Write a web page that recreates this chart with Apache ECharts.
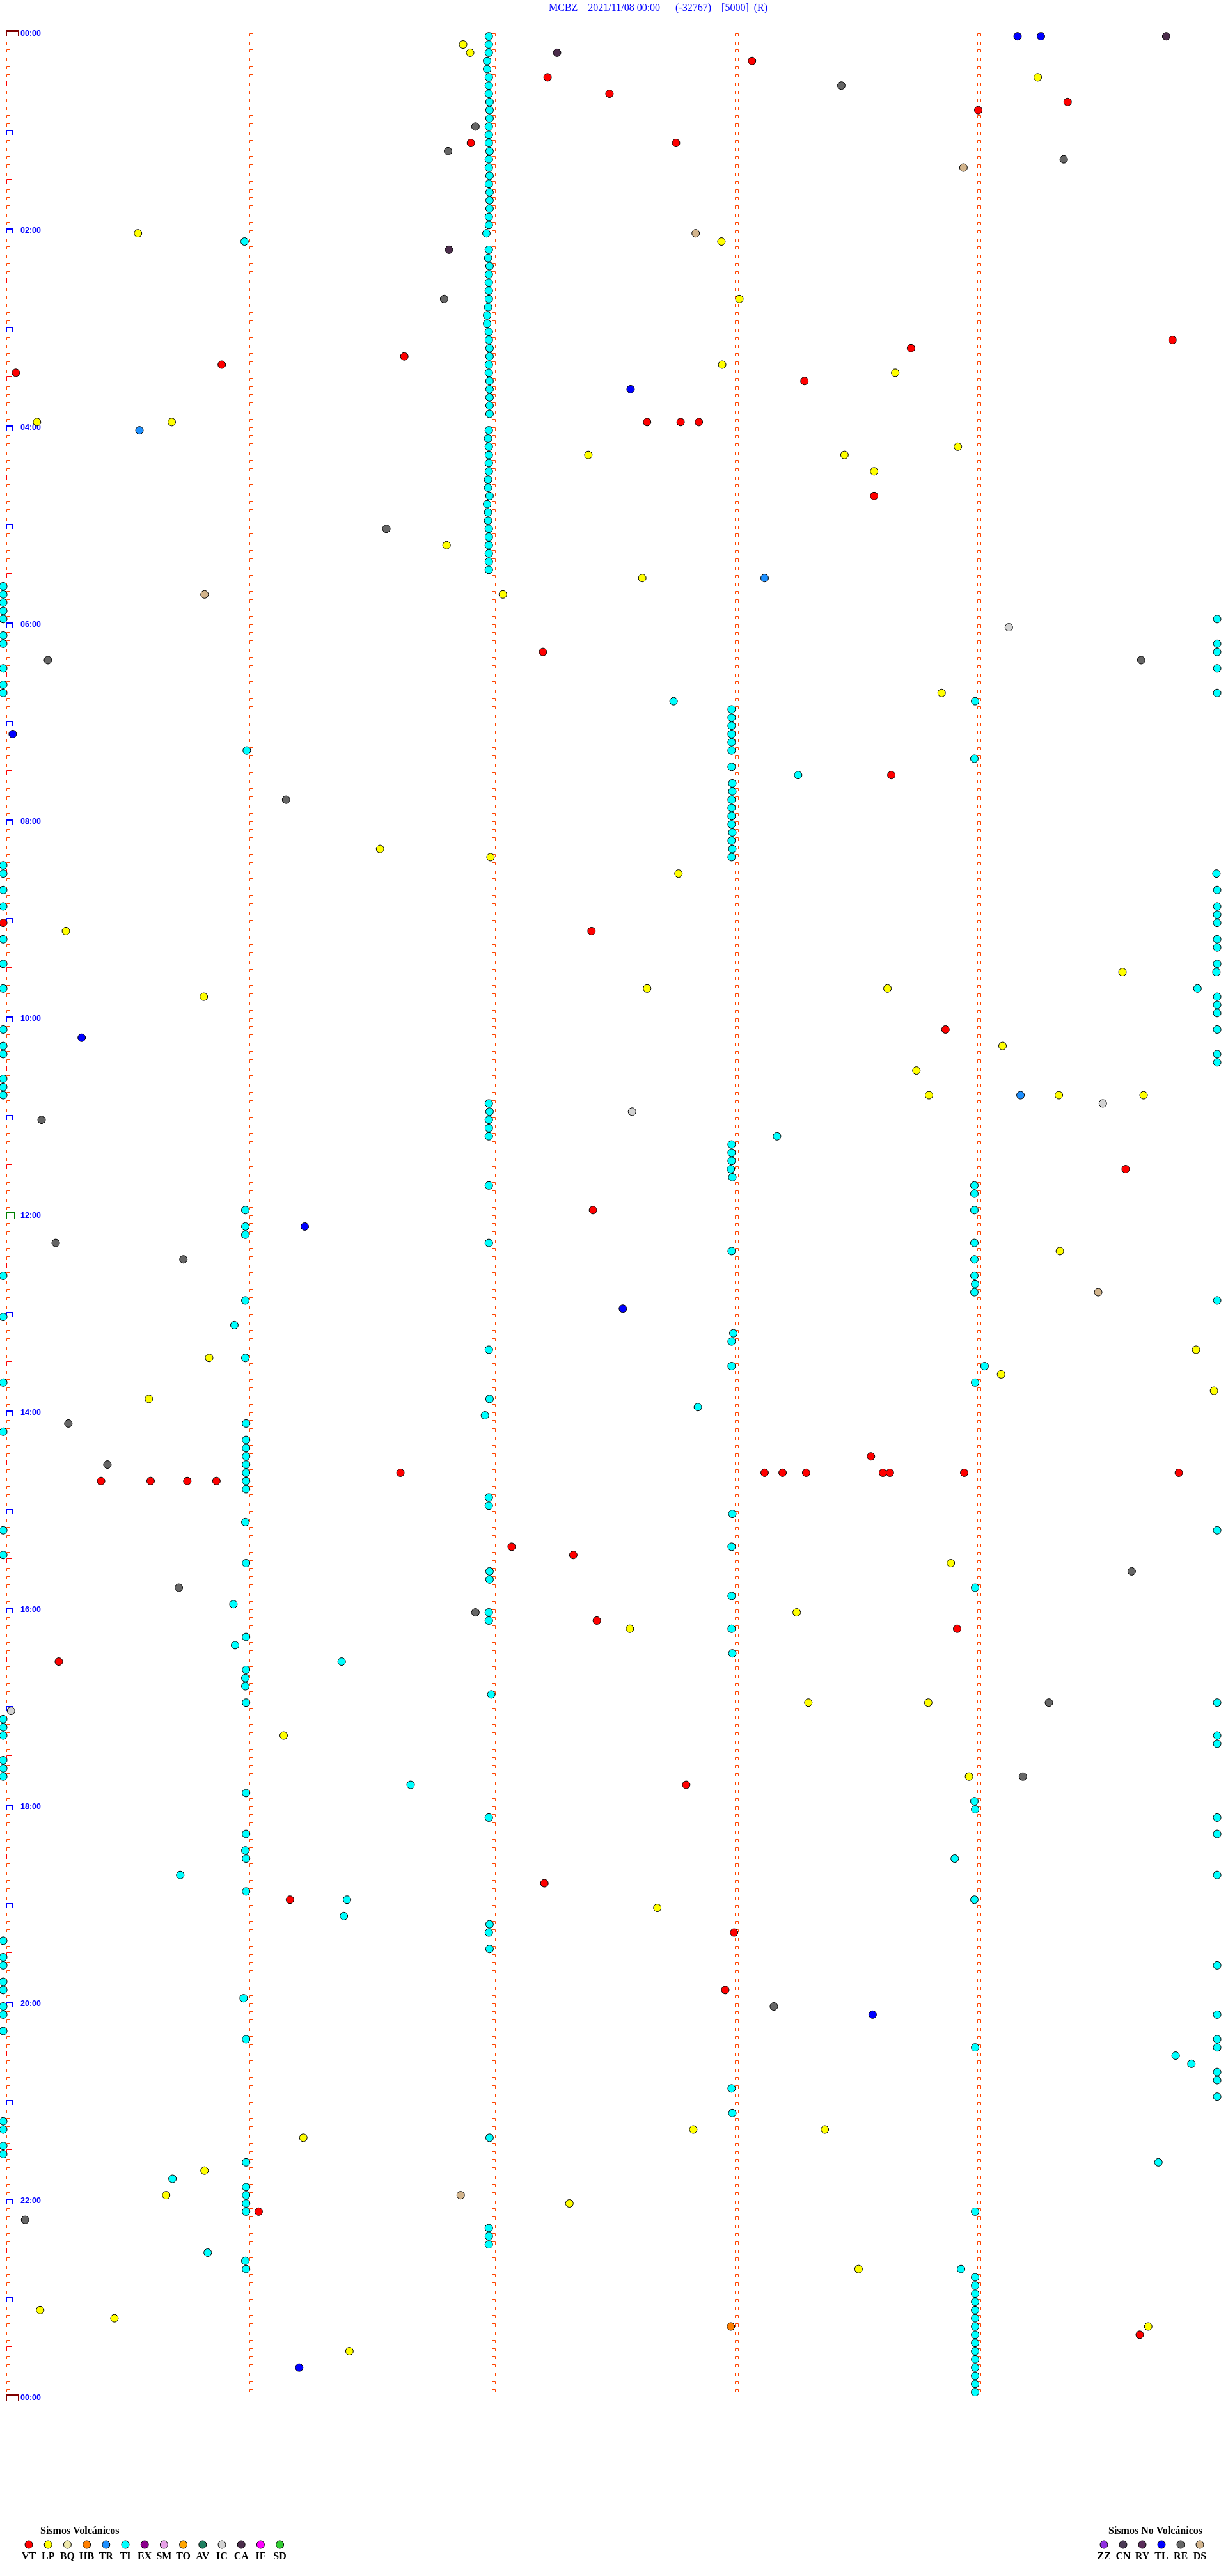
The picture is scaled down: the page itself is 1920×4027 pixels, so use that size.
<!DOCTYPE html>
<html><head><meta charset="utf-8">
<script src="https://cdn.jsdelivr.net/npm/echarts@6/dist/echarts.min.js"></script>
<style>html,body{margin:0;padding:0;background:#fff;}#c{width:1920px;height:4027px;}</style>
</head><body><div id="c"></div>
<script>
// ---------- texts ----------
const TITLE = 'MCBZ    2021/11/08 00:00      (-32767)    [5000]  (R)';
const timeLabels = ['00:00','02:00','04:00','06:00','08:00','10:00','12:00','14:00','16:00','18:00','20:00','22:00','00:00'];
const volcanicTypes  = ['VT','LP','BQ','HB','TR','TI','EX','SM','TO','AV','IC','CA','IF','SD'];
const volcanicColors = ['#FF0000','#FFFF00','#EEE8AA','#FF8000','#1E90FF','#00FFFF','#8B008B','#E6A0E6','#FFA500','#1F7F60','#D3D3D3','#4B2D4B','#FF00FF','#32CD32'];
const nonVolcanicTypes  = ['ZZ','CN','RY','TL','RE','DS'];
const nonVolcanicColors = ['#9030E0','#4B3A55','#5A2D5A','#0000FF','#666666','#D2B48C'];

// ---------- events: [minute within the 5-min row, row index (5 min each)] ----------
const VT = [[3.071,3],[2.229,5],[2.484,7],[4.371,8],[4.003,9],[1.913,13],[2.758,13],[4.803,37],[3.726,38],[1.639,39],[0.887,40],[0.039,41],[3.287,42],[2.639,47],[2.777,47],[2.852,47],[3.574,56],[2.210,75],[3.645,90],[-0.013,108],[2.410,109],[3.868,121],[4.610,138],[2.416,143],[3.561,173],[1.623,175],[3.123,175],[3.197,175],[3.294,175],[3.610,175],[3.639,175],[3.945,175],[4.829,175],[0.390,176],[0.594,176],[0.745,176],[0.865,176],[2.081,184],[2.335,185],[2.432,193],[3.916,194],[0.216,198],[2.800,213],[2.216,225],[1.168,227],[2.997,231],[2.961,238],[1.039,265],[4.668,280]];
const LP = [[1.881,1],[1.910,2],[4.248,5],[0.542,24],[2.945,25],[3.019,32],[2.948,40],[3.661,41],[0.126,47],[0.681,47],[3.919,50],[2.397,51],[3.452,51],[3.574,53],[1.813,62],[2.619,66],[2.045,68],[3.852,80],[1.539,99],[1.994,100],[2.768,102],[0.245,109],[4.597,114],[2.639,116],[3.629,116],[0.813,117],[4.103,123],[3.748,126],[3.800,129],[4.335,129],[4.684,129],[4.339,148],[4.900,160],[0.835,161],[4.097,163],[4.974,165],[0.587,166],[3.890,186],[3.255,192],[2.568,194],[3.303,203],[3.797,203],[1.142,207],[3.965,212],[2.681,228],[2.829,255],[3.371,255],[1.223,256],[0.816,260],[0.658,263],[2.319,264],[3.510,272],[0.139,277],[0.445,278],[4.703,279],[1.413,282]];
const HB = [[2.984,279]];
const TR = [[0.548,48],[3.123,66],[4.177,129]];
const TI = [
  [1.987,0],[1.987,1],[1.987,2],[1.980,3],[1.980,4],[1.987,5],[1.987,6],[1.987,7],[1.990,8],[1.990,9],[1.990,10],[1.987,11],[1.987,12],[1.987,13],[1.990,14],[1.987,15],[1.987,16],[1.990,17],[1.987,18],[1.990,19],[1.990,20],[1.990,21],[1.987,22],[1.987,23],[1.977,24],
  [0.981,25],
  [1.987,26],[1.984,27],[1.990,28],[1.987,29],[1.987,30],[1.987,31],[1.987,32],[1.984,33],[1.980,34],[1.980,35],[1.987,36],[1.987,37],[1.990,38],[1.990,39],[1.987,40],[1.987,41],[1.990,42],[1.990,43],[1.990,44],[1.990,45],[1.990,46],
  [1.987,48],[1.984,49],[1.987,50],[1.987,51],[1.987,52],[1.987,53],[1.984,54],[1.984,55],[1.990,56],[1.980,57],[1.984,58],[1.984,59],[1.987,60],[1.987,61],[1.987,62],[1.987,63],[1.987,64],[1.987,65],
  [-0.013,67],[-0.013,68],[-0.013,69],[-0.013,70],[-0.013,71],[4.987,71],[-0.013,73],[-0.013,74],[4.987,74],[4.987,75],[-0.013,77],[4.987,77],[-0.013,79],[-0.013,80],[4.987,80],
  [2.748,81],[3.990,81],
  [2.987,82],[2.987,83],[2.987,84],[2.987,85],[2.987,86],[2.987,87],[0.990,87],[3.987,88],[2.987,89],[3.261,90],
  [2.990,91],[2.990,92],[2.987,93],[2.987,94],[2.987,95],[2.987,96],[2.990,97],[2.987,98],[2.990,99],[2.987,100],
  [-0.013,101],[-0.013,102],[4.984,102],[-0.013,104],[4.987,104],[-0.013,106],[4.987,106],[4.987,107],[4.987,108],[-0.013,110],[4.987,110],[4.987,111],[-0.013,113],[4.987,113],[4.984,114],[-0.013,116],[4.906,116],[4.987,117],[4.987,118],[4.987,119],[-0.013,121],[4.987,121],[-0.013,123],[-0.013,124],[4.987,124],[4.987,125],[-0.013,127],[-0.013,128],[-0.013,129],
  [1.987,130],[1.990,131],[1.987,132],[1.987,133],[1.987,134],[3.174,134],
  [2.987,135],[2.987,136],[2.987,137],[2.984,138],[2.990,139],
  [1.987,140],[3.987,140],[3.987,141],[0.984,143],[3.987,143],
  [0.984,145],[0.984,146],[1.987,147],[3.987,147],[2.987,148],[3.987,149],[-0.013,151],[3.987,151],[3.990,152],[3.987,153],[0.984,154],[4.987,154],[-0.013,156],[0.939,157],[2.994,158],[2.987,159],[1.987,160],[0.984,161],[2.987,162],[4.029,162],[-0.013,164],[3.990,164],[1.990,166],[2.848,167],[1.971,168],[0.987,169],[-0.013,170],
  [0.987,171],[0.987,172],[0.987,173],[0.987,174],[0.987,175],[0.987,176],[0.987,177],
  [1.987,178],[1.987,179],[2.990,180],[0.984,181],[-0.013,182],[4.987,182],[2.987,184],[-0.013,185],[0.987,186],[1.990,187],[1.990,188],[3.990,189],[2.987,190],[0.935,191],[1.987,192],[1.987,193],
  [2.987,194],[0.987,195],[0.942,196],[2.990,197],[1.381,198],[0.987,199],[0.984,200],[0.984,201],[1.997,202],[0.987,203],[4.987,203],[-0.013,205],[-0.013,206],[-0.013,207],[4.987,207],[4.987,208],[-0.013,210],[-0.013,211],[-0.013,212],[1.665,213],[0.987,214],[3.987,215],[3.990,216],[1.987,217],[4.987,217],[0.987,219],[4.987,219],[0.984,221],[0.987,222],[3.906,222],[0.716,224],[4.987,224],[0.987,226],[1.403,227],[3.987,227],[1.390,229],[1.990,230],[1.987,231],[-0.013,232],[1.990,233],[-0.013,234],[-0.013,235],[4.987,235],[-0.013,237],[-0.013,238],[0.977,239],[-0.013,240],[-0.013,241],[4.987,241],
  [-0.013,243],[0.987,244],[4.987,244],[4.987,245],[3.990,245],[4.816,246],[4.881,247],[4.987,248],[4.987,249],[2.987,250],[4.987,251],[2.990,253],[-0.013,254],[-0.013,255],[1.990,256],[-0.013,257],[-0.013,258],[0.987,259],[4.745,259],[0.684,261],[0.987,262],[0.987,263],[0.987,264],[0.987,265],[3.990,265],[1.987,267],[1.987,268],[1.987,269],[0.829,270],[0.984,271],[0.987,272],[3.932,272],
  [3.990,273],[3.990,274],[3.990,275],[3.990,276],[3.990,277],[3.990,278],[3.990,279],[3.990,280],[3.990,281],[3.990,282],[3.990,283],[3.990,284],[3.990,285],[3.990,286],[3.990,287]
];
const IC = [[4.129,72],[4.516,130],[2.577,131],[0.019,204]];
const CA = [[4.777,0],[2.268,2],[1.823,26]];
const TL = [[4.165,0],[4.261,0],[2.571,43],[0.026,85],[0.310,122],[1.229,145],[2.539,155],[3.568,241],[1.206,284]];
const RE = [[3.439,6],[1.932,11],[1.819,14],[4.355,15],[1.803,32],[1.565,60],[0.171,76],[4.674,76],[1.152,93],[0.145,132],[0.203,147],[0.729,149],[0.255,169],[0.416,174],[4.635,187],[0.710,189],[1.932,192],[4.294,203],[4.187,212],[3.161,240],[0.077,266]];
const DS = [[3.942,16],[2.839,24],[0.816,68],[4.497,153],[1.871,263]];

const eventSeries = [
  ['TI', TI, volcanicColors[5]], ['VT', VT, volcanicColors[0]], ['LP', LP, volcanicColors[1]],
  ['HB', HB, volcanicColors[3]], ['TR', TR, volcanicColors[4]], ['IC', IC, volcanicColors[10]],
  ['CA', CA, volcanicColors[11]], ['TL', TL, nonVolcanicColors[3]], ['RE', RE, nonVolcanicColors[4]],
  ['DS', DS, nonVolcanicColors[5]]
];

// ---------- drum tick marks (one per minute per 5-min row) ----------
const ROWS = 288, COLS = 5;
const markData = [];
for (let r = 0; r <= ROWS; r++) {
  for (let c = 0; c < COLS; c++) {
    if (r === ROWS && c > 0) continue;
    let kind = 0;
    if (c === 0) {
      if (r === 0 || r === ROWS) kind = 3;
      else if (r === 144) kind = 4;
      else if (r % 12 === 0) kind = 2;
      else if (r % 6 === 0) kind = 1;
    }
    markData.push([c, r, kind]);
  }
}

function renderMark(params, api) {
  const c = api.value(0), r = api.value(1), kind = api.value(2);
  const p = api.coord([c, r]);
  const x = Math.round(p[0]), y = Math.round(p[1]);
  const children = [];
  if (kind === 0) {
    children.push({type:'polyline', shape:{points:[[x+0.5,y],[x+0.5,y-4.5],[x+5.5,y-4.5],[x+5.5,y]]}, style:{stroke:'#FF4500', lineWidth:1, fill:null}});
  } else if (kind === 1) {
    children.push({type:'polyline', shape:{points:[[x+0.5,y],[x+0.5,y-7.5],[x+8.5,y-7.5],[x+8.5,y]]}, style:{stroke:'#FF0000', lineWidth:1, fill:null}});
  } else if (kind === 2) {
    children.push({type:'polyline', shape:{points:[[x,y],[x,y-7],[x+10,y-7],[x+10,y]]}, style:{stroke:'#0000FF', lineWidth:2, fill:null}});
  } else if (kind === 4) {
    children.push({type:'polyline', shape:{points:[[x,y],[x,y-9],[x+13,y-9],[x+13,y]]}, style:{stroke:'#008000', lineWidth:2, fill:null}});
  } else if (kind === 3) {
    children.push({type:'polyline', shape:{points:[[x,y],[x,y-8]]}, style:{stroke:'#800000', lineWidth:2, fill:null}});
    children.push({type:'polyline', shape:{points:[[x+19,y],[x+19,y-8]]}, style:{stroke:'#800000', lineWidth:2, fill:null}});
    children.push({type:'rect', shape:{x:x-1, y:y-10, width:21, height:3}, style:{fill:'#800000'}});
  }
  if (c === 0 && r % 24 === 0) {
    children.push({type:'text', x:32, y:y-4.7, style:{text:timeLabels[r/24], fill:'#0000FF', font:'bold 12.5px "Liberation Sans", Arial, sans-serif', verticalAlign:'middle', align:'left'}});
  }
  return {type:'group', children: children, silent:true};
}

// ---------- legend graphics ----------
const graphics = [];
graphics.push({type:'text', x:858, y:13, style:{text:TITLE, fill:'#0000FF', font:'16px "Liberation Serif", "Times New Roman", serif', verticalAlign:'middle'}});
const legendFont = 'bold 16px "Liberation Serif", "Times New Roman", serif';
graphics.push({type:'text', x:63, y:3957, style:{text:'Sismos Volcánicos', fill:'#000', font:legendFont, verticalAlign:'middle'}});
volcanicTypes.forEach((t, i) => {
  const cx = 45 + 30.2 * i;
  graphics.push({type:'circle', shape:{cx:cx, cy:3978, r:6}, style:{fill:volcanicColors[i], stroke:'#000', lineWidth:1}});
  graphics.push({type:'text', x:cx, y:3997, style:{text:t, fill:'#000', font:legendFont, align:'center', verticalAlign:'middle'}});
});
graphics.push({type:'text', x:1733, y:3957, style:{text:'Sismos No Volcánicos', fill:'#000', font:legendFont, verticalAlign:'middle'}});
nonVolcanicTypes.forEach((t, i) => {
  const cx = 1726 + 30 * i;
  graphics.push({type:'circle', shape:{cx:cx, cy:3978, r:6}, style:{fill:nonVolcanicColors[i], stroke:'#000', lineWidth:1}});
  graphics.push({type:'text', x:cx, y:3997, style:{text:t, fill:'#000', font:legendFont, align:'center', verticalAlign:'middle'}});
});

const series = [{
  type:'custom', name:'marks', data:markData, renderItem:renderMark, clip:false, z:1, silent:true,
  encode:{x:0, y:1}
}];
eventSeries.forEach(([name, data, color]) => {
  series.push({type:'scatter', name:name, data:data, symbol:'circle', symbolSize:12, z:3, clip:false,
    itemStyle:{color:color, borderColor:'#000', borderWidth:1, opacity:1}});
});

const chart = echarts.init(document.getElementById('c'), null, {renderer:'canvas'});
chart.setOption({
  animation:false,
  backgroundColor:'#ffffff',
  grid:{left:0, right:0, top:56.7, bottom:274.5},
  xAxis:{type:'value', min:-0.02634, max:5.0316, show:false, splitLine:{show:false}},
  yAxis:{type:'value', min:0, max:ROWS, inverse:true, show:false, splitLine:{show:false}},
  graphic:graphics,
  series:series
});
</script></body></html>
